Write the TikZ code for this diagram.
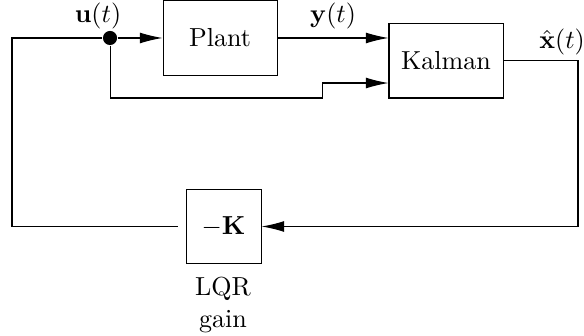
\documentclass[tikz,border=0pt]{standalone}
\usetikzlibrary{arrows.meta,positioning}
\begin{document}
\begin{tikzpicture}[>={Latex[length=8.7pt,width=4.2pt]}]
    % Marco de la figura
    \useasboundingbox (0,0) rectangle (7.872,-4.529);

    % --- BLOQUES ---
    \tikzset{bloque/.style={draw=black, rectangle, minimum height=1.01cm, inner sep=0pt}}

    \node[bloque, minimum width=1.537cm, minimum height=1.024cm] (Plant) at (2.966,-0.512) {Plant};
    \node[bloque, minimum width=1.537cm] (Kalman) at (6.012,-0.816) {Kalman};
    \node[bloque, minimum width=1.011cm] (Gain) at (3.013,-3.053) {$-\mathbf{K}$};
    \node[align=center] (LQR) at (3.006,-4.11) {LQR\\gain};

    % Punto de bifurcacion
    \node[circle, fill=black, inner sep=0pt, minimum size=0.19cm] (Dot) at (1.483,-0.512) {};

    % --- COORDENADAS DE LAS ESQUINAS ---
    \coordinate (L) at (0.162,-3.053);   % esquina izquierda
    \coordinate (R) at (7.791,-3.053);   % esquina derecha
    \coordinate (Jog) at (4.341,-1.321); % escalon de la rama inferior

    % --- CONEXIONES ---
    \draw[->] (Dot) -- (Plant.west);
    \draw[->] (Plant.east) -- (Plant.east -| Kalman.west)
        node[midway, above] (Ylabel) {$\mathbf{y}(t)$};
    \draw[->] (Dot) |- (Jog) |- ([yshift=-0.303cm]Kalman.west);
    \draw[->] (Kalman.east) -| (R) -- (Gain.east);
    \draw[shorten <=3pt] (Gain.west) -- (L) |- (Dot);

    % --- ETIQUETAS ---
    \node (Ulabel) at (1.321,-0.216) {$\mathbf{u}(t)$};
    \node (Xlabel) at (7.576,-0.566) {$\hat{\mathbf{x}}(t)$};

\end{tikzpicture}
\end{document}
